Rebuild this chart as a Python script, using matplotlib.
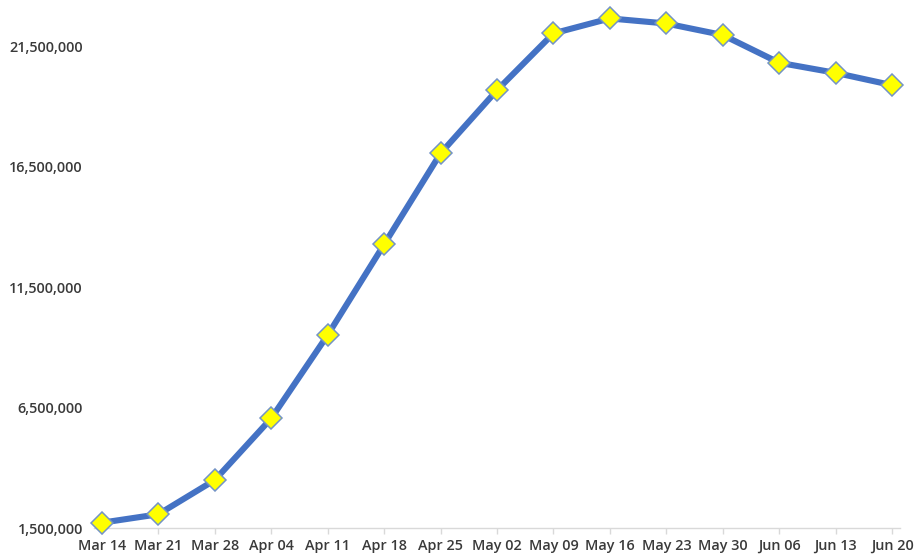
import matplotlib
matplotlib.use("Agg")
import matplotlib.pyplot as plt
from matplotlib.ticker import FuncFormatter

weeks = ["Mar 14", "Mar 21", "Mar 28", "Apr 04", "Apr 11", "Apr 18", "Apr 25", "May 02",
         "May 09", "May 16", "May 23", "May 30", "Jun 06", "Jun 13", "Jun 20"]
values = [1720000, 2070000, 3490000, 6050000, 9510000, 13270000, 17050000, 19670000,
          22030000, 22650000, 22440000, 21960000, 20810000, 20390000, 19880000]
yticks = [1500000, 6500000, 11500000, 16500000, 21500000]

fig = plt.figure(figsize=(9.2, 5.58), dpi=100)
ax = fig.add_axes([94 / 920, 1 - 528 / 558, (900 - 94) / 920, (528 - 10) / 558])

x = list(range(len(weeks)))
ax.plot(x, values, color="#4472C4", linewidth=4.4, solid_joinstyle="round", zorder=2,
        marker="D", markersize=11.5, markerfacecolor="#FFFF00",
        markeredgecolor="#7393C6", markeredgewidth=1.1, clip_on=False)

## Axes
ax.set_xlim(-0.14, 14.14)
ax.set_ylim(1500000, 23000000)
ax.set_xticks(x)
ax.set_xticklabels(weeks)
ax.set_yticks(yticks)
ax.yaxis.set_major_formatter(FuncFormatter(lambda v, p: f"{int(v):,}"))

for s in ["top", "right", "left"]:
    ax.spines[s].set_visible(False)
ax.spines["bottom"].set_color("#D9D9D9")
ax.spines["bottom"].set_linewidth(1.0)
ax.spines["bottom"].set_zorder(1)

ax.tick_params(axis="x", length=4, color="#D9D9D9", width=1.0, pad=4)
ax.tick_params(axis="y", length=0, pad=8)
for lab in ax.get_xticklabels() + ax.get_yticklabels():
    lab.set_fontfamily("Open Sans")
    lab.set_fontweight("semibold")
    lab.set_fontsize(10.4)
    lab.set_color("#3A3A3A")

fig.savefig("out.png", dpi=100)
